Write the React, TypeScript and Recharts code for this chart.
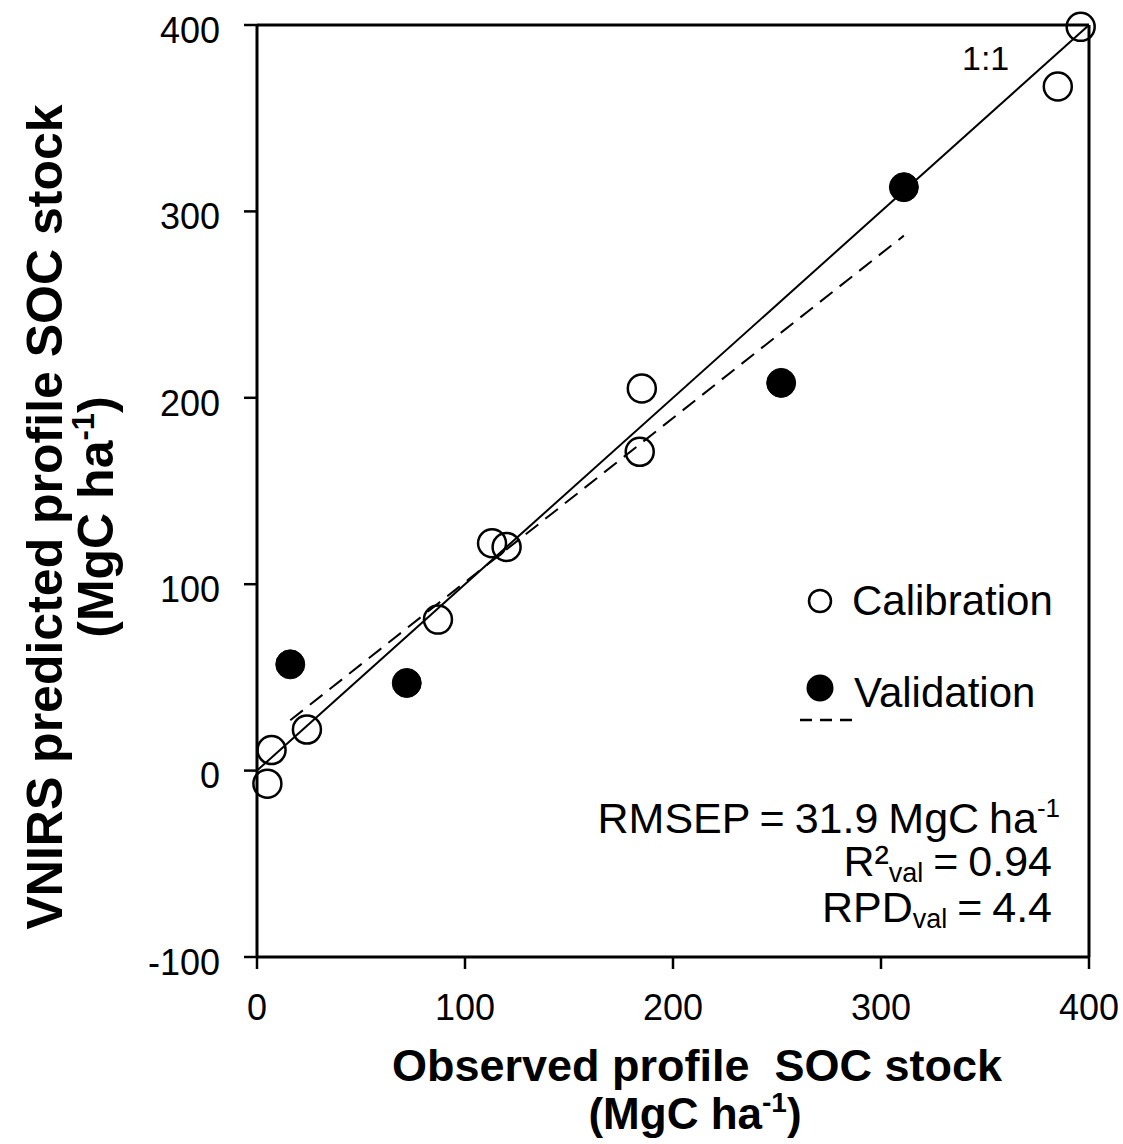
import React from 'react';
import { ScatterChart, Scatter, XAxis, YAxis, ReferenceLine } from 'recharts';

const calX = [5, 7, 24, 87, 113, 120, 184, 185, 385, 396];
const calY = [-7, 11, 22, 81, 122, 120, 171, 205, 367, 399];
const valX = [16, 72, 252, 311];
const valY = [57, 47, 208, 313];
const oneX = [0, 400];
const oneY = [0, 400];
const regX = [16, 311];
const regY = [27, 287];
const xTicks = [0, 100, 200, 300, 400];
const yTicks = [-100, 0, 100, 200, 300, 400];

const calData = calX.map((x, i) => ({ x, y: calY[i] }));
const valData = valX.map((x, i) => ({ x, y: valY[i] }));

const FONT = '"Liberation Sans", Arial, sans-serif';

const OpenDot = (p: any) => (
  <circle cx={p.cx} cy={p.cy} r={14} fill="none" stroke="#000" strokeWidth={2.5} />
);
const FilledDot = (p: any) => (
  <circle cx={p.cx} cy={p.cy} r={14.5} fill="#000" stroke="#000" strokeWidth={1} />
);

const YTick = (p: any) => (
  <text x={p.x} y={p.y + 5} dy="0.355em" textAnchor="end" fontSize={36} fontFamily={FONT} fill="#000">
    {p.payload.value}
  </text>
);
const XTick = (p: any) => (
  <text x={p.x} y={p.y} dy="0.71em" textAnchor="middle" fontSize={36} fontFamily={FONT} fill="#000">
    {p.payload.value}
  </text>
);

export default function App() {
  return (
    <div style={{ position: 'absolute', left: 0, top: 0, width: 1123, height: 1144, background: '#fff' }}>
      <ScatterChart
        width={1123}
        height={1144}
        margin={{ top: 25, right: 34, bottom: 0, left: 0 }}
      >
        <XAxis
          type="number"
          dataKey="x"
          domain={[0, 400]}
          ticks={xTicks}
          height={187}
          tickSize={12}
          tickMargin={25}
          tick={<XTick />}
          axisLine={{ stroke: '#000', strokeWidth: 3 }}
          tickLine={{ stroke: '#000', strokeWidth: 2.5 }}
        />
        <YAxis
          type="number"
          dataKey="y"
          domain={[-100, 400]}
          ticks={yTicks}
          width={257}
          tickSize={13}
          tickMargin={24}
          tick={<YTick />}
          axisLine={{ stroke: '#000', strokeWidth: 3 }}
          tickLine={{ stroke: '#000', strokeWidth: 2.5 }}
        />
        <ReferenceLine y={400} stroke="#000" strokeWidth={3} />
        <ReferenceLine x={400} stroke="#000" strokeWidth={3} />
        <ReferenceLine
          segment={[{ x: oneX[0], y: oneY[0] }, { x: oneX[1], y: oneY[1] }]}
          stroke="#000"
          strokeWidth={2}
        />
        <ReferenceLine
          segment={[{ x: regX[0], y: regY[0] }, { x: regX[1], y: regY[1] }]}
          stroke="#000"
          strokeWidth={2}
          strokeDasharray="16 9"
        />
        <Scatter name="Calibration" data={calData} shape={<OpenDot />} isAnimationActive={false} />
        <Scatter name="Validation" data={valData} shape={<FilledDot />} isAnimationActive={false} />
      </ScatterChart>
      <svg
        width={1123}
        height={1144}
        style={{ position: 'absolute', left: 0, top: 0, pointerEvents: 'none' }}
        fontFamily={FONT}
        fill="#000"
      >
        <text x={962} y={70} fontSize={34}>1:1</text>

        <circle cx={820} cy={601} r={11} fill="none" stroke="#000" strokeWidth={2.5} />
        <text x={852} y={615} fontSize={42}>Calibration</text>
        <circle cx={820} cy={688} r={13.5} fill="#000" />
        <text x={854} y={707} fontSize={42}>Validation</text>
        <line x1={800} y1={720} x2={852} y2={720} stroke="#000" strokeWidth={2.5} strokeDasharray="12 8" />

        <text x={1060} y={833} fontSize={43} textAnchor="end" wordSpacing={-2}>
          RMSEP = 31.9 MgC ha<tspan fontSize={26} dy={-16}>-1</tspan>
        </text>
        <text x={1052} y={876} fontSize={43} textAnchor="end" wordSpacing={-2}>
          R²<tspan fontSize={27} dy={6}>val</tspan><tspan dy={-6}> = 0.94</tspan>
        </text>
        <text x={1052} y={922} fontSize={43} textAnchor="end" wordSpacing={-2}>
          RPD<tspan fontSize={27} dy={6}>val</tspan><tspan dy={-6}> = 4.4</tspan>
        </text>

        <text x={697} y={1081} fontSize={45} fontWeight="bold" textAnchor="middle">
          Observed profile{'\u00a0 '}SOC stock
        </text>
        <text x={695} y={1129} fontSize={44} fontWeight="bold" textAnchor="middle">
          (MgC ha<tspan fontSize={28} dy={-17}>-1</tspan><tspan dy={17}>)</tspan>
        </text>

        <g transform="translate(62,517) rotate(-90)">
          <text x={0} y={0} fontSize={50} fontWeight="bold" textAnchor="middle">
            VNIRS predicted profile SOC stock
          </text>
        </g>
        <g transform="translate(113,517) rotate(-90)">
          <text x={0} y={0} fontSize={50} fontWeight="bold" textAnchor="middle">
            (MgC ha<tspan fontSize={31} dy={-19}>-1</tspan><tspan dy={19}>)</tspan>
          </text>
        </g>
      </svg>
    </div>
  );
}
